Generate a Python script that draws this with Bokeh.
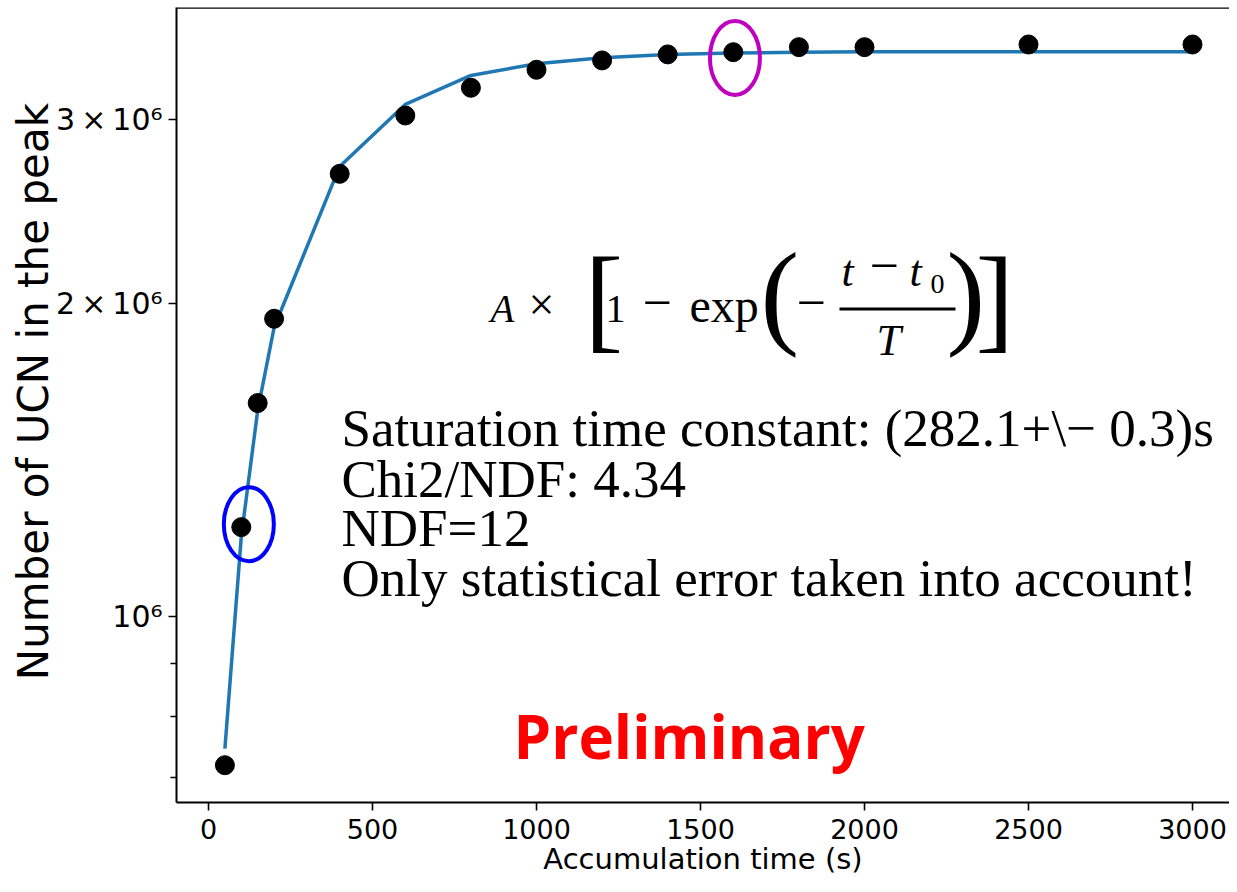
import math
from bokeh.plotting import figure
from bokeh.models import Label, Span, FixedTicker, Range1d
from bokeh.embed import file_html
from bokeh.resources import INLINE

# ---- data ----
accum_time = [50, 100, 150, 200, 400, 600, 800, 1000, 1200, 1400, 1600, 1800, 2000, 2500, 3000]
ucn_counts = [7.19e5, 1.218e6, 1.603e6, 1.932e6, 2.663e6, 3.030e6, 3.222e6, 3.353e6,
              3.423e6, 3.469e6, 3.486e6, 3.525e6, 3.525e6, 3.546e6, 3.546e6]
fit_counts = [7.46e5, 1.193e6, 1.577e6, 1.895e6, 2.707e6, 3.105e6, 3.311e6, 3.398e6,
              3.443e6, 3.469e6, 3.479e6, 3.486e6, 3.489e6, 3.489e6, 3.489e6]
x_ticks = [0, 500, 1000, 1500, 2000, 2500, 3000]
y_major = [1e6, 2e6, 3e6]
y_minor = [7e5, 8e5, 9e5]
y_labels = {1000000: "10\u2076", 2000000: "2\u2009\u00d7\u200910\u2076", 3000000: "3\u2009\u00d7\u200910\u2076"}
circled_time = [123, 1605]
circled_counts = [1.226e6, 3.441e6]
circle_colors = ["#0000FF", "#BF00BF"]

# ---- canvas-pixel <-> data helpers for annotation placement ----
X0PX, XS = 208.0, 0.328           # px of t=0, px per second
Y6PX, DEC = 615.7, 1040.0         # px of 1e6, px per decade


def px2x(px):
    return (px - X0PX) / XS


def px2y(py):
    return 10 ** (6 + (Y6PX - py) / DEC)


p = figure(width=1229, height=884,
           x_range=Range1d(px2x(176), px2x(1229)),
           y_range=Range1d(px2y(802), px2y(7)),
           y_axis_type="log",
           output_backend="svg", toolbar_location=None,
           min_border_left=176, min_border_right=0, min_border_top=7, min_border_bottom=82)
p.background_fill_color = "white"
p.border_fill_color = "white"
p.outline_line_color = None
p.xgrid.visible = False
p.ygrid.visible = False

# axes
p.xaxis.ticker = FixedTicker(ticks=x_ticks)
p.yaxis.ticker = FixedTicker(ticks=y_major, minor_ticks=y_minor)
p.yaxis.major_label_overrides = y_labels
for ax in (p.xaxis, p.yaxis):
    ax.axis_line_color = "black"
    ax.axis_line_width = 2
    ax.major_tick_line_color = "black"
    ax.major_tick_line_width = 1.6
    ax.minor_tick_line_color = "black"
    ax.minor_tick_line_width = 1.6
    ax.major_tick_in = 0
    ax.minor_tick_in = 0
    ax.major_label_text_font = "DejaVu Sans"
    ax.major_label_text_color = "black"
    ax.axis_label_text_font = "DejaVu Sans"
    ax.axis_label_text_font_style = "normal"
    ax.axis_label_text_color = "black"
p.xaxis.major_label_text_font_size = "27px"
p.yaxis.major_label_text_font_size = "30px"
p.xaxis.major_tick_out = 8
p.xaxis.minor_tick_out = 0
p.xaxis.major_label_standoff = 8
p.xaxis.axis_label = "Accumulation time (s)"
p.xaxis.axis_label_text_font_size = "29px"
p.xaxis.axis_label_standoff = 0
p.yaxis.major_tick_out = 8
p.yaxis.minor_tick_out = 6
p.yaxis.major_label_standoff = 6
# two leading no-break spaces lift the centred title to where the reference has it
p.yaxis.axis_label = "\u00a0\u00a0Number of UCN in the peak"
p.yaxis.axis_label_text_font_size = "42px"
p.yaxis.axis_label_standoff = -5

p.add_layout(Span(location=px2y(7), dimension="width", line_color="black", line_width=2.5))

# data
p.line(accum_time, fit_counts, line_color="#1f77b4", line_width=3.5)
p.scatter(accum_time, ucn_counts, size=19, fill_color="black", line_color="black", marker="circle")
p.ellipse(x=circled_time, y=circled_counts, width=50, height=74,
          width_units="screen", height_units="screen",
          fill_color=None, line_color=circle_colors, line_width=4)

# vertical centre of the font box relative to the baseline, per font
MID = {"Liberation Serif": 0.35, "Open Sans": 0.41}


def lab(text, px, base_py, size, font="Liberation Serif", style="normal", color="black"):
    p.add_layout(Label(x=px2x(px), y=px2y(base_py - MID[font] * size), text=text,
                       text_font=font, text_font_size=f"{size}px", text_font_style=style,
                       text_color=color, text_align="left", text_baseline="middle"))


# formula  A x [1 - exp(-(t - t0)/T)]
lab("A", 490, 322, 39, style="italic")
lab("\u00d7", 528, 320, 46)
lab("[", 584, 338, 116)
lab("1", 605, 322, 40)
lab("\u2212", 642, 320.5, 52)
lab("exp", 689, 322, 48)
lab("(", 760, 334, 116)
lab("\u2212", 796, 320.5, 52)
lab("t", 841, 286, 44, style="italic")
lab("\u2212", 869, 282.7, 52)
lab("t", 909, 286, 44, style="italic")
lab("0", 930, 293, 28)
lab("T", 876, 355, 44, style="italic")
lab(")", 946, 334, 116)
lab("]", 975, 338, 116)
p.segment(x0=[px2x(839)], y0=[px2y(308.5)], x1=[px2x(955)], y1=[px2y(308.5)],
          line_color="black", line_width=3)

# fit info
lab("Saturation time constant: (282.1+\\\u2212 0.3)s", 341, 446, 53)
lab("Chi2/NDF: 4.34", 341, 497, 53)
lab("NDF=12", 341, 546, 53)
lab("Only statistical error taken into account!", 341, 596, 53)

lab("Preliminary", 513, 760, 60, font="Open Sans", style="bold", color="#FF0000")

open("out.html", "w").write(file_html(p, INLINE))
